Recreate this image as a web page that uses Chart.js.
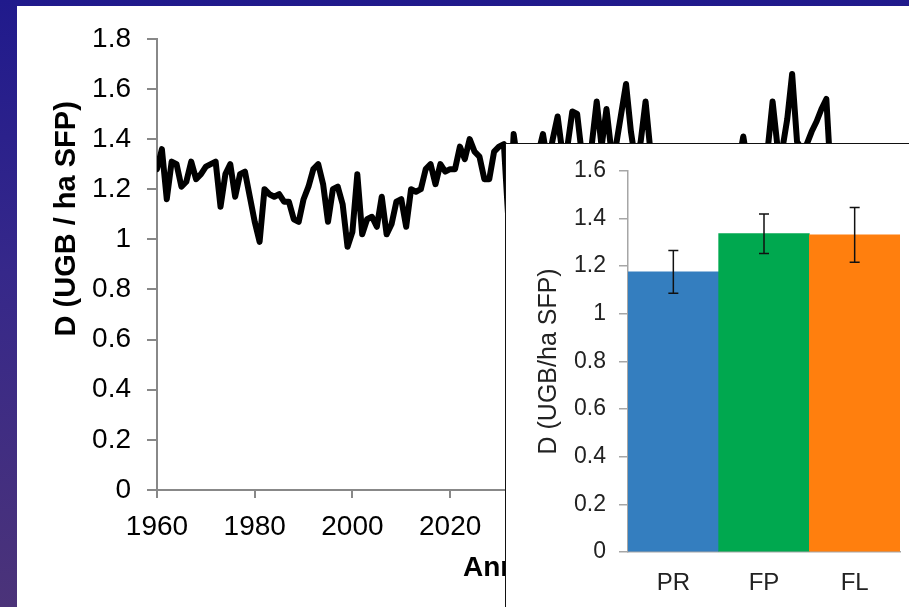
<!DOCTYPE html>
<html>
<head>
<meta charset="utf-8">
<script src="https://cdn.jsdelivr.net/npm/chart.js@4.4.1/dist/chart.umd.min.js"></script>
<style>
  html, body { margin: 0; padding: 0; }
  body {
    width: 909px; height: 607px; overflow: hidden; position: relative;
    background: linear-gradient(to bottom, #201a8c 0%, #36288a 45%, #4b3379 100%);
  }
  #main { position: absolute; left: 17px; top: 6px; width: 892px; height: 601px; background: #fff; }
  #inset {
    position: absolute; left: 505px; top: 143px; width: 404px; height: 464px;
    background: #fff; border-left: 1px solid #111; border-top: 1px solid #111; box-sizing: border-box;
  }
  canvas { display: block; }
</style>
</head>
<body>
<div id="main"><canvas id="lineChart" width="892" height="601"></canvas></div>
<div id="inset"><canvas id="barChart" width="403" height="463"></canvas></div>
<script>
// annual stocking density, 1960 -> 2100
const firstYear = 1960;
const density = [
  1.28, 1.36, 1.16, 1.31, 1.30, 1.21, 1.23, 1.31, 1.24, 1.26,   // 1960s
  1.29, 1.30, 1.31, 1.13, 1.26, 1.30, 1.17, 1.26, 1.27, 1.17,   // 1970s
  1.07, 0.99, 1.20, 1.18, 1.17, 1.18, 1.15, 1.15, 1.08, 1.07,   // 1980s
  1.16, 1.21, 1.28, 1.30, 1.22, 1.07, 1.20, 1.21, 1.14, 0.97,   // 1990s
  1.03, 1.26, 1.02, 1.08, 1.09, 1.05, 1.17, 1.02, 1.06, 1.15,   // 2000s
  1.16, 1.05, 1.20, 1.19, 1.20, 1.28, 1.30, 1.22, 1.30, 1.27,   // 2010s
  1.28, 1.28, 1.37, 1.32, 1.40, 1.35, 1.33, 1.24, 1.24, 1.35,   // 2020s
  1.37, 1.38, 1.05, 1.42, 1.28, 1.32, 1.26, 1.30, 1.34, 1.42,   // 2030s
  1.30, 1.40, 1.49, 1.34, 1.37, 1.51, 1.50, 1.33, 1.30, 1.38,   // 2040s
  1.55, 1.37, 1.52, 1.35, 1.38, 1.50, 1.62, 1.43, 1.30, 1.39,   // 2050s
  1.55, 1.35, 1.28, 1.31, 1.24, 1.33, 1.29, 1.26, 1.34, 1.30,   // 2060s
  1.27, 1.32, 1.25, 1.30, 1.33, 1.28, 1.31, 1.26, 1.34, 1.30,   // 2070s
  1.41, 1.29, 1.33, 1.27, 1.31, 1.36, 1.55, 1.37, 1.36, 1.48,   // 2080s
  1.66, 1.39, 1.36, 1.38, 1.43, 1.47, 1.52, 1.56, 1.22, 1.30,   // 2090s
  1.28                                                          // 2100
];
const yearTicks = [1960, 1980, 2000, 2020, 2040, 2060, 2080, 2100];

// inset: mean density per group with error
const groups = ['PR', 'FP', 'FL'];
const groupMeans = [1.176, 1.336, 1.331];
const groupErrors = [0.09, 0.083, 0.115];
const groupColors = ['#347ebf', '#00a84f', '#ff7f0e'];

const fontFamily = '"Liberation Sans", Arial, sans-serif';

const fmt = v => String(Number(v.toFixed(1)));

// free-placed axis titles for the main chart
const mainTitles = {
  id: 'mainTitles',
  afterDraw(chart) {
    const ctx = chart.ctx;
    const area = chart.chartArea;
    ctx.save();
    ctx.fillStyle = '#000';
    ctx.font = 'bold 29px ' + fontFamily;
    ctx.textBaseline = 'middle';
    ctx.textAlign = 'center';
    ctx.translate(chart.scales.y.left + 50, area.top + 180);
    ctx.rotate(-Math.PI / 2);
    ctx.fillText('D (UGB / ha SFP)', 0, 0);
    ctx.restore();

    ctx.save();
    ctx.fillStyle = '#000';
    ctx.font = 'bold 28px ' + fontFamily;
    ctx.textBaseline = 'middle';
    ctx.textAlign = 'left';
    ctx.fillText('Années', area.left + 306, area.bottom + 78);
    ctx.restore();
  }
};

const errorBars = {
  id: 'errorBars',
  afterDatasetsDraw(chart) {
    const ctx = chart.ctx;
    const y = chart.scales.y;
    const meta = chart.getDatasetMeta(0);
    ctx.save();
    ctx.strokeStyle = '#111';
    ctx.lineWidth = 1.5;
    meta.data.forEach((bar, i) => {
      const top = y.getPixelForValue(groupMeans[i] + groupErrors[i]);
      const bottom = y.getPixelForValue(groupMeans[i] - groupErrors[i]);
      ctx.beginPath();
      ctx.moveTo(bar.x, top);
      ctx.lineTo(bar.x, bottom);
      ctx.moveTo(bar.x - 5, top);
      ctx.lineTo(bar.x + 5, top);
      ctx.moveTo(bar.x - 5, bottom);
      ctx.lineTo(bar.x + 5, bottom);
      ctx.stroke();
    });
    ctx.restore();
  }
};

new Chart(document.getElementById('lineChart'), {
  type: 'line',
  data: {
    datasets: [{
      data: density.map((v, i) => ({ x: firstYear + i, y: v })),
      borderColor: '#000',
      borderWidth: 6,
      pointRadius: 0,
      tension: 0,
      borderJoinStyle: 'round',
      borderCapStyle: 'round'
    }]
  },
  options: {
    responsive: false,
    animation: false,
    devicePixelRatio: 1,
    layout: { padding: { top: 31, right: 68, left: 0, bottom: 0 } },
    plugins: { legend: { display: false }, tooltip: { enabled: false } },
    scales: {
      x: {
        type: 'linear',
        min: yearTicks[0],
        max: yearTicks[yearTicks.length - 1],
        afterBuildTicks: s => { s.ticks = yearTicks.map(v => ({ value: v })); },
        afterFit: s => { s.height = 117; },
        ticks: {
          color: '#000', padding: 12, maxRotation: 0,
          font: { family: fontFamily, size: 28 },
          callback: v => String(v)
        },
        grid: { drawOnChartArea: false, tickLength: 8, color: '#888', lineWidth: 2 },
        border: { color: '#888', width: 2 }
      },
      y: {
        min: 0,
        max: 1.8,
        afterFit: s => { s.width = 140; },
        ticks: {
          stepSize: 0.2, color: '#000', padding: 16,
          font: { family: fontFamily, size: 28 },
          callback: fmt
        },
        grid: { drawOnChartArea: false, tickLength: 10, color: '#888', lineWidth: 2 },
        border: { color: '#888', width: 2 }
      }
    }
  },
  plugins: [mainTitles]
});

new Chart(document.getElementById('barChart'), {
  type: 'bar',
  data: {
    labels: groups,
    datasets: [{
      data: groupMeans,
      backgroundColor: groupColors,
      borderWidth: 0,
      barPercentage: 1,
      categoryPercentage: 1
    }]
  },
  options: {
    responsive: false,
    animation: false,
    devicePixelRatio: 1,
    layout: { padding: { top: 25, right: 9, left: 0, bottom: 0 } },
    plugins: { legend: { display: false }, tooltip: { enabled: false } },
    scales: {
      x: {
        afterFit: s => { s.height = 55; },
        ticks: { color: '#222', padding: 17, font: { family: fontFamily, size: 24 } },
        grid: { display: true, drawOnChartArea: false, drawTicks: false },
        border: { color: '#a6a6a6', width: 1.5 }
      },
      y: {
        min: 0,
        max: 1.6,
        afterFit: s => { s.width = 122; },
        ticks: {
          stepSize: 0.2, color: '#222', padding: 13,
          font: { family: fontFamily, size: 23 },
          callback: fmt
        },
        grid: { drawOnChartArea: false, tickLength: 9, color: '#a6a6a6', lineWidth: 1.5 },
        border: { color: '#a6a6a6', width: 1.5 },
        title: {
          display: true, text: 'D (UGB/ha SFP)', color: '#222',
          font: { family: fontFamily, size: 25 }, padding: { top: 28, bottom: 0 }
        }
      }
    }
  },
  plugins: [errorBars]
});
</script>
</body>
</html>
